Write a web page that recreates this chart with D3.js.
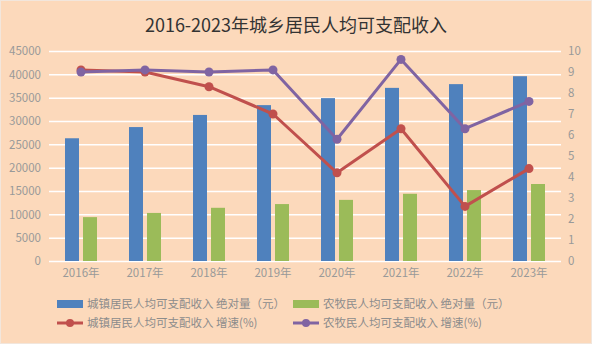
<!DOCTYPE html>
<html>
<head>
<meta charset="utf-8">
<script src="https://cdn.jsdelivr.net/npm/d3@7"></script>
<style>
  html, body { margin: 0; padding: 0; background: #FCD9BB; }
  svg { display: block; }
  text { font-family: "Noto Sans CJK SC", "Noto Sans", sans-serif; }
</style>
</head>
<body>
<svg id="chart" width="592" height="344"></svg>
<script>
// 2016–2023 per-capita disposable income, urban vs. farming/herding residents
const years = ["2016年", "2017年", "2018年", "2019年", "2020年", "2021年", "2022年", "2023年"];
const urbanIncome = [26300, 28700, 31300, 33400, 34900, 37100, 37900, 39600];
const ruralIncome = [9400, 10300, 11400, 12200, 13100, 14400, 15200, 16500];
const urbanGrowth = [9.1, 9.0, 8.3, 7.0, 4.2, 6.3, 2.6, 4.4];
const ruralGrowth = [9.0, 9.1, 9.0, 9.1, 5.8, 9.6, 6.3, 7.6];
const leftTicks = [0, 5000, 10000, 15000, 20000, 25000, 30000, 35000, 40000, 45000];
const rightTicks = [0, 1, 2, 3, 4, 5, 6, 7, 8, 9, 10];
const seriesNames = [
  "城镇居民人均可支配收入 绝对量（元）",
  "农牧民人均可支配收入 绝对量（元）",
  "城镇居民人均可支配收入 增速(%)",
  "农牧民人均可支配收入 增速(%)"
];
const colors = { urban: "#4F81BD", rural: "#9BBB59", urbanG: "#C0504D", ruralG: "#8064A2" };

const svg = d3.select("#chart");
const W = 592, H = 344;
const m = { left: 49, right: 31, top: 51, bottom: 83 };
const iw = W - m.left - m.right, ih = H - m.top - m.bottom;

svg.append("rect").attr("x", 0.5).attr("y", 0.5).attr("width", W - 1).attr("height", H - 1)
  .attr("fill", "#FCD9BB").attr("stroke", "#F2E6DC").attr("stroke-width", 1);

svg.append("text").attr("x", W / 2).attr("y", 32).attr("text-anchor", "middle")
  .attr("font-size", 18).attr("fill", "#333333").text("2016-2023年城乡居民人均可支配收入");

const g = svg.append("g").attr("transform", `translate(${m.left},${m.top})`);

const x = d3.scaleBand().domain(years).range([0, iw]).paddingInner(0).paddingOuter(0);
const xs = d3.scaleBand().domain([0, 1])
  .range([x.bandwidth() / 2 - 16, x.bandwidth() / 2 + 16]).paddingInner(4 / 18).paddingOuter(0);
const yL = d3.scaleLinear().domain([0, 45000]).range([ih, 0]);
const yR = d3.scaleLinear().domain([0, 10]).range([ih, 0]);

// gridlines + left axis
const axL = g.append("g").call(d3.axisLeft(yL).tickValues(leftTicks).tickSize(-iw).tickPadding(8).tickFormat(d3.format("d")));
axL.select(".domain").remove();
axL.selectAll(".tick line").attr("stroke", "#ffffff").attr("stroke-width", 1.5);
axL.selectAll(".tick text").attr("fill", "#999999").attr("font-size", 11.5)
  .attr("font-family", "'Noto Sans', sans-serif");

// right axis
const axR = g.append("g").attr("transform", `translate(${iw},0)`)
  .call(d3.axisRight(yR).tickValues(rightTicks).tickSize(0).tickPadding(7));
axR.select(".domain").remove();
axR.selectAll(".tick text").attr("fill", "#999999").attr("font-size", 11.5)
  .attr("font-family", "'Noto Sans', sans-serif");

// bottom axis labels
const axB = g.append("g").attr("transform", `translate(0,${ih})`)
  .call(d3.axisBottom(x).tickSize(0).tickPadding(8));
axB.select(".domain").remove();
axB.selectAll(".tick text").attr("fill", "#999999").attr("font-size", 11.5);

// bars
const barData = [urbanIncome, ruralIncome];
const barColors = [colors.urban, colors.rural];
barData.forEach((arr, si) => {
  g.append("g").selectAll("rect").data(arr).join("rect")
    .attr("x", (d, i) => x(years[i]) + xs(si))
    .attr("width", xs.bandwidth())
    .attr("y", d => yL(d))
    .attr("height", d => ih - yL(d))
    .attr("fill", barColors[si]);
});

// growth lines
const cx = i => x(years[i]) + x.bandwidth() / 2;
const line = d3.line().x((d, i) => cx(i)).y(d => yR(d));
[[urbanGrowth, colors.urbanG], [ruralGrowth, colors.ruralG]].forEach(([arr, c]) => {
  const lg = g.append("g");
  lg.append("path").datum(arr).attr("d", line).attr("fill", "none")
    .attr("stroke", c).attr("stroke-width", 3).attr("stroke-linejoin", "round");
  lg.selectAll("circle").data(arr).join("circle")
    .attr("cx", (d, i) => cx(i)).attr("cy", d => yR(d)).attr("r", 4.5).attr("fill", c);
});

// legend
const legendItems = [
  { name: seriesNames[0], color: colors.urban, type: "bar", x: 57, y: 304 },
  { name: seriesNames[1], color: colors.rural, type: "bar", x: 293, y: 304 },
  { name: seriesNames[2], color: colors.urbanG, type: "line", x: 57, y: 323 },
  { name: seriesNames[3], color: colors.ruralG, type: "line", x: 293, y: 323 }
];
const lgd = svg.append("g");
legendItems.forEach(it => {
  const li = lgd.append("g").attr("transform", `translate(${it.x},${it.y})`);
  if (it.type === "bar") {
    li.append("rect").attr("x", 0).attr("y", -4).attr("width", 26).attr("height", 8).attr("fill", it.color);
  } else {
    li.append("line").attr("x1", 0).attr("x2", 26).attr("y1", 0).attr("y2", 0)
      .attr("stroke", it.color).attr("stroke-width", 3);
    li.append("circle").attr("cx", 13).attr("cy", 0).attr("r", 4).attr("fill", it.color);
  }
  li.append("text").attr("x", 30).attr("y", 0).attr("dy", "0.35em")
    .attr("font-size", 11.5).attr("fill", "#8c8c8c").text(it.name);
});
</script>
</body>
</html>
